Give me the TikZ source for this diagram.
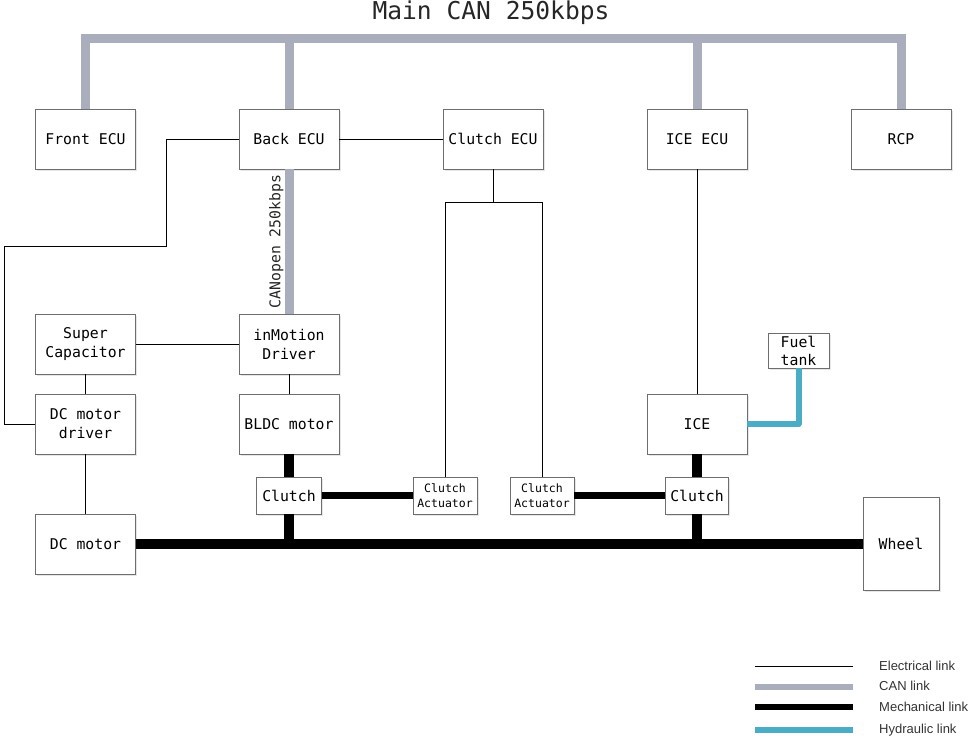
\documentclass[tikz,border=0pt]{standalone}
\usepackage{fontspec}
\setmonofont{DejaVu Sans Mono}
\setsansfont{Liberation Sans}
\usetikzlibrary{shadows}

\definecolor{canGray}{RGB}{170,174,188}
\definecolor{hydBlue}{RGB}{75,172,198}
\definecolor{boxLine}{RGB}{110,110,110}

\begin{document}
\begin{tikzpicture}[x=1pt,y=-1pt,
    unit/.style={draw=boxLine, fill=white, line width=0.8pt, align=center, inner sep=0pt,
      font=\fontsize{14.8}{19}\selectfont\ttfamily, minimum width=100pt, minimum height=60pt,
      drop shadow={shadow xshift=1.5pt, shadow yshift=-1.5pt, opacity=0.2}},
    smallunit/.style={unit, minimum width=64pt, minimum height=37pt},
    elec/.style={line width=0.8pt},
    can/.style={canGray, line width=9pt},
    mech/.style={black, line width=9.5pt},
    hyd/.style={hydBlue, line width=6pt, line join=round},
    legtext/.style={anchor=west, inner sep=0pt, font=\fontsize{13}{15}\selectfont\sffamily, text=black!80}]
  \useasboundingbox (0,0) rectangle (975,745);

  \node[font=\fontsize{24.6}{28}\selectfont\ttfamily, text=black!85] (title) at (491,13) {Main CAN 250kbps};
  \coordinate (busW) at (81,38);
  \coordinate (busE) at (905.5,38);

  \node[unit] (front) at (85.5,139) {Front ECU};
  \node[unit] (back) at (289,139) {Back ECU};
  \node[unit] (clecu) at (493,139) {Clutch ECU};
  \node[unit] (iceecu) at (697,139) {ICE ECU};
  \node[unit] (rcp) at (901,139) {RCP};
  \node[unit] (supcap) at (85.5,344) {Super\\Capacitor};
  \node[unit] (inmot) at (289,344) {inMotion\\Driver};
  \node[unit] (dcdrv) at (85.5,424) {DC motor\\driver};
  \node[unit] (bldc) at (289,424) {BLDC motor};
  \node[unit] (ice) at (697,424) {ICE};
  \node[unit] (dcmot) at (85.5,544) {DC motor};
  \node[smallunit, minimum width=65pt] (clutchA) at (289,495.5) {Clutch};
  \node[smallunit, minimum width=63pt] (clutchB) at (697,495.5) {Clutch};
  \node[smallunit, font=\fontsize{11.5}{15}\selectfont\ttfamily] (actA) at (445,495.5) {Clutch\\Actuator};
  \node[smallunit, font=\fontsize{11.5}{15}\selectfont\ttfamily] (actB) at (542,495.5) {Clutch\\Actuator};
  \node[smallunit, minimum width=61pt, minimum height=35pt, font=\fontsize{14.8}{18}\selectfont\ttfamily] (fuel) at (798.5,350.5) {Fuel\\tank};
  \node[unit, minimum width=76pt, minimum height=93pt] (wheel) at (901,544) {Wheel};

  \draw[can] (busW) -- (busE);
  \draw[can] (front.north) -- (front.north |- busW);
  \draw[can] (back.north) -- (back.north |- busW);
  \draw[can] (iceecu.north) -- (iceecu.north |- busW);
  \draw[can] (rcp.north) -- (rcp.north |- busW);
  \draw[can] (back.south) -- node[left=0pt, rotate=90, anchor=south, inner sep=1pt,
    font=\fontsize{14.8}{18}\selectfont\ttfamily, text=black!85] (canopen) {CANopen 250kbps} (inmot.north);

  \draw[elec] (back.east) -- (clecu.west);
  \draw[elec] (back.west) -- (166,139) -- (166,246) -- (4,246) |- (dcdrv.west);
  \draw[elec] (clecu.south) -- (493,202);
  \draw[elec] (actA.north) |- (actB.north |- 0,202) -- (actB.north);
  \draw[elec] (supcap.east) -- (inmot.west);
  \draw[elec] (supcap.south) -- (dcdrv.north);
  \draw[elec] (inmot.south) -- (bldc.north);
  \draw[elec] (dcdrv.south) -- (dcmot.north);
  \draw[elec] (iceecu.south) -- (ice.north);

  \draw[mech] (dcmot.east) -- (wheel.west);
  \draw[mech] (bldc.south) -- (clutchA.north);
  \draw[mech] (clutchA.south) -- (clutchA.south |- dcmot.east);
  \draw[mech] (ice.south) -- (clutchB.north);
  \draw[mech] (clutchB.south) -- (clutchB.south |- dcmot.east);
  \draw[mech, line width=7pt] (clutchA.east) -- (actA.west);
  \draw[mech, line width=7pt] (actB.east) -- (clutchB.west);
  \draw[hyd] (ice.east) -| (fuel.south);

  \coordinate (leg1) at (755,666);
  \coordinate (leg2) at (755,687);
  \coordinate (leg3) at (755,707);
  \coordinate (leg4) at (755,730);
  \draw[elec] (leg1) -- ++(98,0);
  \draw[can, line width=6pt] (leg2) -- ++(98,0);
  \draw[mech, line width=6pt] (leg3) -- ++(98,0);
  \draw[hyd] (leg4) -- ++(98,0);
  \node[legtext] (lt1) at (879,666) {Electrical link};
  \node[legtext] (lt2) at (879,686) {CAN link};
  \node[legtext] (lt3) at (879,707) {Mechanical link};
  \node[legtext] (lt4) at (879,730) {Hydraulic link};
\end{tikzpicture}
\end{document}
